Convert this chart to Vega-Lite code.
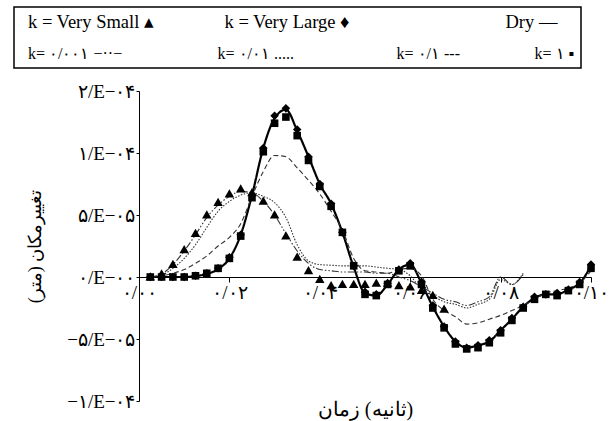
{
  "$schema": "https://vega.github.io/schema/vega-lite/v6.json",
  "width": 452,
  "height": 310,
  "padding": {"left": 13, "top": 6, "right": 5, "bottom": 5},
  "data": {"values": [
    {"t":0.0025,"s":"Dry","v":0},{"t":0.005,"s":"Dry","v":0},{"t":0.0075,"s":"Dry","v":0},{"t":0.01,"s":"Dry","v":0},
    {"t":0.0125,"s":"Dry","v":0.08e-5},{"t":0.015,"s":"Dry","v":0.24e-5},{"t":0.0175,"s":"Dry","v":0.64e-5},{"t":0.02,"s":"Dry","v":1.5e-5},
    {"t":0.0225,"s":"Dry","v":3.4e-5},{"t":0.025,"s":"Dry","v":6.6e-5},{"t":0.0275,"s":"Dry","v":10.4e-5},{"t":0.03,"s":"Dry","v":12.8e-5},
    {"t":0.0325,"s":"Dry","v":13.5e-5},{"t":0.035,"s":"Dry","v":11.8e-5},{"t":0.0375,"s":"Dry","v":9.7e-5},{"t":0.04,"s":"Dry","v":7.5e-5},
    {"t":0.0425,"s":"Dry","v":5.9e-5},{"t":0.045,"s":"Dry","v":3.6e-5},{"t":0.0475,"s":"Dry","v":0.8e-5},{"t":0.05,"s":"Dry","v":-1.3e-5},
    {"t":0.0525,"s":"Dry","v":-1.5e-5},{"t":0.055,"s":"Dry","v":-0.6e-5},{"t":0.0575,"s":"Dry","v":0.6e-5},{"t":0.06,"s":"Dry","v":1.0e-5},
    {"t":0.0625,"s":"Dry","v":-0.5e-5},{"t":0.065,"s":"Dry","v":-2.4e-5},{"t":0.0675,"s":"Dry","v":-4.0e-5},{"t":0.07,"s":"Dry","v":-5.2e-5},
    {"t":0.0725,"s":"Dry","v":-5.7e-5},{"t":0.075,"s":"Dry","v":-5.5e-5},{"t":0.0775,"s":"Dry","v":-5.2e-5},{"t":0.08,"s":"Dry","v":-4.3e-5},
    {"t":0.0825,"s":"Dry","v":-3.4e-5},{"t":0.085,"s":"Dry","v":-2.4e-5},{"t":0.0875,"s":"Dry","v":-1.7e-5},{"t":0.09,"s":"Dry","v":-1.4e-5},
    {"t":0.0925,"s":"Dry","v":-1.4e-5},{"t":0.095,"s":"Dry","v":-1.0e-5},{"t":0.0975,"s":"Dry","v":-0.5e-5},{"t":0.1,"s":"Dry","v":0.9e-5},

    {"t":0.0025,"s":"0.1","v":0},{"t":0.005,"s":"0.1","v":0.08e-5},{"t":0.0075,"s":"0.1","v":0.3e-5},{"t":0.01,"s":"0.1","v":0.6e-5},
    {"t":0.0125,"s":"0.1","v":1.1e-5},{"t":0.015,"s":"0.1","v":1.7e-5},{"t":0.0175,"s":"0.1","v":2.5e-5},{"t":0.02,"s":"0.1","v":3.2e-5},
    {"t":0.0225,"s":"0.1","v":4.3e-5},{"t":0.025,"s":"0.1","v":6.5e-5},{"t":0.0275,"s":"0.1","v":8.5e-5},{"t":0.03,"s":"0.1","v":9.8e-5},
    {"t":0.0325,"s":"0.1","v":9.7e-5},{"t":0.035,"s":"0.1","v":8.8e-5},{"t":0.0375,"s":"0.1","v":7.8e-5},{"t":0.04,"s":"0.1","v":6.7e-5},
    {"t":0.0425,"s":"0.1","v":5.3e-5},{"t":0.045,"s":"0.1","v":3.8e-5},{"t":0.0475,"s":"0.1","v":1.5e-5},{"t":0.05,"s":"0.1","v":0.5e-5},
    {"t":0.0525,"s":"0.1","v":0.4e-5},{"t":0.055,"s":"0.1","v":0.3e-5},{"t":0.0575,"s":"0.1","v":0.6e-5},{"t":0.06,"s":"0.1","v":0.7e-5},
    {"t":0.0625,"s":"0.1","v":0.1e-5},{"t":0.065,"s":"0.1","v":-1.8e-5},{"t":0.0675,"s":"0.1","v":-2.7e-5},{"t":0.07,"s":"0.1","v":-3.2e-5},
    {"t":0.0725,"s":"0.1","v":-3.8e-5},{"t":0.075,"s":"0.1","v":-3.7e-5},{"t":0.0775,"s":"0.1","v":-3.4e-5},{"t":0.08,"s":"0.1","v":-3.1e-5},
    {"t":0.0825,"s":"0.1","v":-2.7e-5},{"t":0.085,"s":"0.1","v":-2.3e-5},{"t":0.0875,"s":"0.1","v":-1.8e-5},{"t":0.09,"s":"0.1","v":-1.3e-5},
    {"t":0.0925,"s":"0.1","v":-1.1e-5},{"t":0.095,"s":"0.1","v":-0.9e-5},{"t":0.0975,"s":"0.1","v":-0.5e-5},{"t":0.1,"s":"0.1","v":0.5e-5},

    {"t":0.0025,"s":"0.01","v":0},{"t":0.005,"s":"0.01","v":0.16e-5},{"t":0.0075,"s":"0.01","v":0.7e-5},{"t":0.01,"s":"0.01","v":1.5e-5},
    {"t":0.0125,"s":"0.01","v":2.6e-5},{"t":0.015,"s":"0.01","v":4.0e-5},{"t":0.0175,"s":"0.01","v":5.3e-5},{"t":0.02,"s":"0.01","v":6.1e-5},
    {"t":0.0225,"s":"0.01","v":6.6e-5},{"t":0.025,"s":"0.01","v":6.8e-5},{"t":0.0275,"s":"0.01","v":6.5e-5},{"t":0.03,"s":"0.01","v":6.0e-5},
    {"t":0.0325,"s":"0.01","v":4.8e-5},{"t":0.035,"s":"0.01","v":2.6e-5},{"t":0.0375,"s":"0.01","v":1.3e-5},{"t":0.04,"s":"0.01","v":1.0e-5},
    {"t":0.0425,"s":"0.01","v":0.95e-5},{"t":0.045,"s":"0.01","v":0.9e-5},{"t":0.0475,"s":"0.01","v":0.9e-5},{"t":0.05,"s":"0.01","v":0.9e-5},
    {"t":0.0525,"s":"0.01","v":0.8e-5},{"t":0.055,"s":"0.01","v":0.7e-5},{"t":0.0575,"s":"0.01","v":0.6e-5},{"t":0.06,"s":"0.01","v":0.1e-5},
    {"t":0.0625,"s":"0.01","v":-1.0e-5},{"t":0.065,"s":"0.01","v":-1.5e-5},{"t":0.0675,"s":"0.01","v":-2.0e-5},{"t":0.07,"s":"0.01","v":-2.2e-5},
    {"t":0.0725,"s":"0.01","v":-2.5e-5},{"t":0.075,"s":"0.01","v":-2.2e-5},{"t":0.0775,"s":"0.01","v":-1.8e-5},{"t":0.08,"s":"0.01","v":-0.2e-5},
    {"t":0.0825,"s":"0.01","v":-0.6e-5},{"t":0.085,"s":"0.01","v":0.3e-5},

    {"t":0.0025,"s":"0.001","v":0},{"t":0.005,"s":"0.001","v":0.24e-5},{"t":0.0075,"s":"0.001","v":1.0e-5},{"t":0.01,"s":"0.001","v":2.1e-5},
    {"t":0.0125,"s":"0.001","v":3.4e-5},{"t":0.015,"s":"0.001","v":4.8e-5},{"t":0.0175,"s":"0.001","v":5.8e-5},{"t":0.02,"s":"0.001","v":6.5e-5},
    {"t":0.0225,"s":"0.001","v":6.9e-5},{"t":0.025,"s":"0.001","v":6.8e-5},{"t":0.0275,"s":"0.001","v":6.1e-5},{"t":0.03,"s":"0.001","v":5.0e-5},
    {"t":0.0325,"s":"0.001","v":3.5e-5},{"t":0.035,"s":"0.001","v":2.1e-5},{"t":0.0375,"s":"0.001","v":1.1e-5},{"t":0.04,"s":"0.001","v":0.6e-5},
    {"t":0.0425,"s":"0.001","v":0.5e-5},{"t":0.045,"s":"0.001","v":0.4e-5},{"t":0.0475,"s":"0.001","v":0.4e-5},{"t":0.05,"s":"0.001","v":0.4e-5},
    {"t":0.0525,"s":"0.001","v":0.3e-5},{"t":0.055,"s":"0.001","v":0.3e-5},{"t":0.0575,"s":"0.001","v":0},{"t":0.06,"s":"0.001","v":-0.3e-5},
    {"t":0.0625,"s":"0.001","v":-0.8e-5},{"t":0.065,"s":"0.001","v":-1.3e-5},{"t":0.0675,"s":"0.001","v":-1.8e-5},{"t":0.07,"s":"0.001","v":-2.0e-5},
    {"t":0.0725,"s":"0.001","v":-2.3e-5},{"t":0.075,"s":"0.001","v":-2.0e-5},{"t":0.0775,"s":"0.001","v":-1.6e-5},{"t":0.08,"s":"0.001","v":0},
    {"t":0.0825,"s":"0.001","v":-0.6e-5},{"t":0.085,"s":"0.001","v":0.2e-5},

    {"t":0.0025,"s":"Very Large","v":0},{"t":0.005,"s":"Very Large","v":0},{"t":0.0075,"s":"Very Large","v":0},{"t":0.01,"s":"Very Large","v":0},
    {"t":0.0125,"s":"Very Large","v":0.1e-5},{"t":0.015,"s":"Very Large","v":0.3e-5},{"t":0.0175,"s":"Very Large","v":0.7e-5},{"t":0.02,"s":"Very Large","v":1.6e-5},
    {"t":0.0225,"s":"Very Large","v":3.4e-5},{"t":0.025,"s":"Very Large","v":6.6e-5},{"t":0.0275,"s":"Very Large","v":10.4e-5},{"t":0.03,"s":"Very Large","v":13.0e-5},
    {"t":0.0325,"s":"Very Large","v":13.6e-5},{"t":0.035,"s":"Very Large","v":11.9e-5},{"t":0.0375,"s":"Very Large","v":9.7e-5},{"t":0.04,"s":"Very Large","v":7.5e-5},
    {"t":0.0425,"s":"Very Large","v":5.9e-5},{"t":0.045,"s":"Very Large","v":3.6e-5},{"t":0.0475,"s":"Very Large","v":0.9e-5},{"t":0.05,"s":"Very Large","v":-1.2e-5},
    {"t":0.0525,"s":"Very Large","v":-1.4e-5},{"t":0.055,"s":"Very Large","v":-0.5e-5},{"t":0.0575,"s":"Very Large","v":0.6e-5},{"t":0.06,"s":"Very Large","v":1.1e-5},
    {"t":0.0625,"s":"Very Large","v":-0.4e-5},{"t":0.065,"s":"Very Large","v":-2.3e-5},{"t":0.0675,"s":"Very Large","v":-4.0e-5},{"t":0.07,"s":"Very Large","v":-5.2e-5},
    {"t":0.0725,"s":"Very Large","v":-5.7e-5},{"t":0.075,"s":"Very Large","v":-5.5e-5},{"t":0.0775,"s":"Very Large","v":-5.1e-5},{"t":0.08,"s":"Very Large","v":-4.3e-5},
    {"t":0.0825,"s":"Very Large","v":-3.3e-5},{"t":0.085,"s":"Very Large","v":-2.4e-5},{"t":0.0875,"s":"Very Large","v":-1.6e-5},{"t":0.09,"s":"Very Large","v":-1.4e-5},
    {"t":0.0925,"s":"Very Large","v":-1.3e-5},{"t":0.095,"s":"Very Large","v":-1.0e-5},{"t":0.0975,"s":"Very Large","v":-0.4e-5},{"t":0.1,"s":"Very Large","v":1.0e-5},

    {"t":0.0025,"s":"1","v":0},{"t":0.005,"s":"1","v":0},{"t":0.0075,"s":"1","v":0},{"t":0.01,"s":"1","v":0},
    {"t":0.0125,"s":"1","v":0.1e-5},{"t":0.015,"s":"1","v":0.3e-5},{"t":0.0175,"s":"1","v":0.7e-5},{"t":0.02,"s":"1","v":1.5e-5},
    {"t":0.0225,"s":"1","v":3.3e-5},{"t":0.025,"s":"1","v":6.4e-5},{"t":0.0275,"s":"1","v":10.1e-5},{"t":0.03,"s":"1","v":12.4e-5},
    {"t":0.0325,"s":"1","v":12.9e-5},{"t":0.035,"s":"1","v":11.4e-5},{"t":0.0375,"s":"1","v":9.4e-5},{"t":0.04,"s":"1","v":7.3e-5},
    {"t":0.0425,"s":"1","v":5.7e-5},{"t":0.045,"s":"1","v":3.6e-5},{"t":0.0475,"s":"1","v":0.9e-5},{"t":0.05,"s":"1","v":-1.4e-5},
    {"t":0.0525,"s":"1","v":-1.5e-5},{"t":0.055,"s":"1","v":-0.6e-5},{"t":0.0575,"s":"1","v":0.5e-5},{"t":0.06,"s":"1","v":0.9e-5},
    {"t":0.0625,"s":"1","v":-0.6e-5},{"t":0.065,"s":"1","v":-2.5e-5},{"t":0.0675,"s":"1","v":-4.1e-5},{"t":0.07,"s":"1","v":-5.4e-5},
    {"t":0.0725,"s":"1","v":-5.8e-5},{"t":0.075,"s":"1","v":-5.7e-5},{"t":0.0775,"s":"1","v":-5.3e-5},{"t":0.08,"s":"1","v":-4.5e-5},
    {"t":0.0825,"s":"1","v":-3.5e-5},{"t":0.085,"s":"1","v":-2.5e-5},{"t":0.0875,"s":"1","v":-1.8e-5},{"t":0.09,"s":"1","v":-1.4e-5},
    {"t":0.0925,"s":"1","v":-1.5e-5},{"t":0.095,"s":"1","v":-1.1e-5},{"t":0.0975,"s":"1","v":-0.6e-5},{"t":0.1,"s":"1","v":0.7e-5},

    {"t":0.0025,"s":"Very Small","v":0},{"t":0.005,"s":"Very Small","v":0.24e-5},{"t":0.0075,"s":"Very Small","v":1.0e-5},{"t":0.01,"s":"Very Small","v":2.2e-5},
    {"t":0.0125,"s":"Very Small","v":3.5e-5},{"t":0.015,"s":"Very Small","v":5.0e-5},{"t":0.0175,"s":"Very Small","v":6.0e-5},{"t":0.02,"s":"Very Small","v":6.7e-5},
    {"t":0.0225,"s":"Very Small","v":7.1e-5},{"t":0.025,"s":"Very Small","v":6.8e-5},{"t":0.0275,"s":"Very Small","v":6.1e-5},{"t":0.03,"s":"Very Small","v":5.0e-5},
    {"t":0.0325,"s":"Very Small","v":3.3e-5},{"t":0.035,"s":"Very Small","v":1.6e-5},{"t":0.0375,"s":"Very Small","v":0.5e-5},{"t":0.04,"s":"Very Small","v":-0.2e-5},
    {"t":0.0425,"s":"Very Small","v":-0.7e-5},{"t":0.045,"s":"Very Small","v":-0.6e-5},{"t":0.0475,"s":"Very Small","v":-0.6e-5},{"t":0.05,"s":"Very Small","v":-0.6e-5},
    {"t":0.0525,"s":"Very Small","v":-0.5e-5},{"t":0.055,"s":"Very Small","v":-0.5e-5},{"t":0.0575,"s":"Very Small","v":-0.7e-5},{"t":0.06,"s":"Very Small","v":-0.8e-5},
    {"t":0.0625,"s":"Very Small","v":-1.1e-5},{"t":0.065,"s":"Very Small","v":-1.5e-5},{"t":0.0675,"s":"Very Small","v":-2.6e-5}
  ]},
  "encoding": {
    "x": {"field": "t", "type": "quantitative",
      "scale": {"domain": [0, 0.1], "nice": false, "zero": false},
      "axis": {"values": [0, 0.02, 0.04, 0.06, 0.08, 0.1], "offset": -124, "grid": false,
        "labelExpr": "['۰/۰۰','۰/۰۲','۰/۰۴','۰/۰۶','۰/۰۸','۰/۱۰'][round(datum.value/0.02)]",
        "labelFlush": false, "labelOverlap": false, "tickSize": 5, "labelPadding": 1,
        "title": "\u200f(ثانیه) زمان", "titleY": 132, "titleBaseline": "middle", "titleFontSize": 20}},
    "y": {"field": "v", "type": "quantitative",
      "scale": {"domain": [-1e-4, 1.5e-4], "nice": false, "zero": false},
      "axis": {"values": [-1e-4, -5e-5, 0, 5e-5, 1e-4, 1.5e-4], "grid": false,
        "labelExpr": "['−۱/E−۰۴','−۵/E−۰۵','۰/E−۰۰','۵/E−۰۵','۱/E−۰۴','۲/E−۰۴'][round(datum.value/5e-5)+2]",
        "tickSize": 3, "labelPadding": 1, "title": "تغییرمکان (متر)", "titlePadding": 22}}
  },
  "layer": [
    {
      "transform": [{"filter": "indexof(['Dry','0.001','0.01','0.1'], datum.s) >= 0"}],
      "mark": {"type": "line", "interpolate": "monotone"},
      "encoding": {
        "strokeDash": {"field": "s", "type": "nominal",
          "scale": {"domain": ["Very Small","Very Large","blank","Dry","0.001","0.01","0.1","1"],
                    "range": [[1,0],[1,0],[1,0],[1,0],[7,2,1.5,2,1.5,2],[1.5,1.5],[5,3],[1,0]]},
          "legend": {
            "labelExpr": "{'Very Small':'k = Very Small ▴','Very Large':'k = Very Large ♦','Dry':'Dry —','blank':'','0.001':'k= ۰/۰۰۱ −··−','0.01':'k= ۰/۰۱ .....','0.1':'k= ۰/۱ ---','1':'k= ۱ ▪\u00a0\u00a0\u00a0'}[datum.value]",
            "encode": {
              "symbols": {"update": {"size": {"value": 0}, "opacity": {"value": 0}}},
              "labels": {"update": {
                "x": {"signal": "{'Very Small':7.5,'0.001':7.5,'Very Large':30,'0.01':23,'0.1':6,'Dry':5,'1':34}[datum.value] || 0"},
                "align": {"value": "left"}, "font": {"value": "Liberation Serif"},
                "fontSize": {"signal": "indexof(['Very Small','Very Large','blank','Dry'], datum.value) >= 0 ? 18.5 : 16"}}}
            }
          }},
        "stroke": {"condition": {"test": "datum.s === 'Dry'", "value": "black"}, "value": "#333333"},
        "strokeWidth": {"condition": {"test": "datum.s === 'Dry'", "value": 2.2}, "value": 1.1}
      }
    },
    {
      "transform": [{"filter": "indexof(['Very Small','Very Large','1'], datum.s) >= 0"}],
      "mark": {"type": "point", "filled": true, "opacity": 1, "size": 1000, "color": "black"},
      "encoding": {
        "shape": {"field": "s", "type": "nominal",
          "scale": {"domain": ["Very Small","Very Large","blank","Dry","0.001","0.01","0.1","1"],
                    "range": ["M0,-0.3L0.3,0.22L-0.3,0.22Z","M0,-0.27L0.27,0L0,0.27L-0.27,0Z","M0,0","M-1,0H1","M-1,0H1","M-1,0H1","M-1,0H1","M-0.24,-0.24H0.24V0.24H-0.24Z"]},
          "legend": {
            "labelExpr": "{'Very Small':'k = Very Small ▴','Very Large':'k = Very Large ♦','Dry':'Dry —','blank':'','0.001':'k= ۰/۰۰۱ −··−','0.01':'k= ۰/۰۱ .....','0.1':'k= ۰/۱ ---','1':'k= ۱ ▪\u00a0\u00a0\u00a0'}[datum.value]",
            "encode": {
              "symbols": {"update": {"size": {"value": 0}, "opacity": {"value": 0}}},
              "labels": {"update": {
                "x": {"signal": "{'Very Small':7.5,'0.001':7.5,'Very Large':30,'0.01':23,'0.1':6,'Dry':5,'1':34}[datum.value] || 0"},
                "align": {"value": "left"}, "font": {"value": "Liberation Serif"},
                "fontSize": {"signal": "indexof(['Very Small','Very Large','blank','Dry'], datum.value) >= 0 ? 18.5 : 16"}}}
            }
          }}
      }
    }
  ],
  "config": {
    "font": "Liberation Serif",
    "view": {"stroke": null},
    "axis": {"domainColor": "black", "tickColor": "black", "labelColor": "black", "titleColor": "black",
             "labelFont": "Liberation Serif", "labelFontSize": 19, "titleFont": "Liberation Serif",
             "titleFontSize": 18, "titleFontWeight": "normal", "domainWidth": 1, "tickWidth": 1},
    "legend": {
      "orient": "none", "legendX": -125, "legendY": -84, "title": null,
      "columns": 4, "gridAlign": "each", "direction": "horizontal",
      "strokeColor": "black", "strokeWidth": 1.5, "padding": 6.5, "columnPadding": 40, "rowPadding": 14,
      "labelFont": "Liberation Serif", "labelFontSize": 16, "labelColor": "black", "labelLimit": 300,
      "symbolSize": 576, "symbolStrokeWidth": 1.2, "symbolStrokeColor": "black", "symbolFillColor": "black"
    }
  }
}
